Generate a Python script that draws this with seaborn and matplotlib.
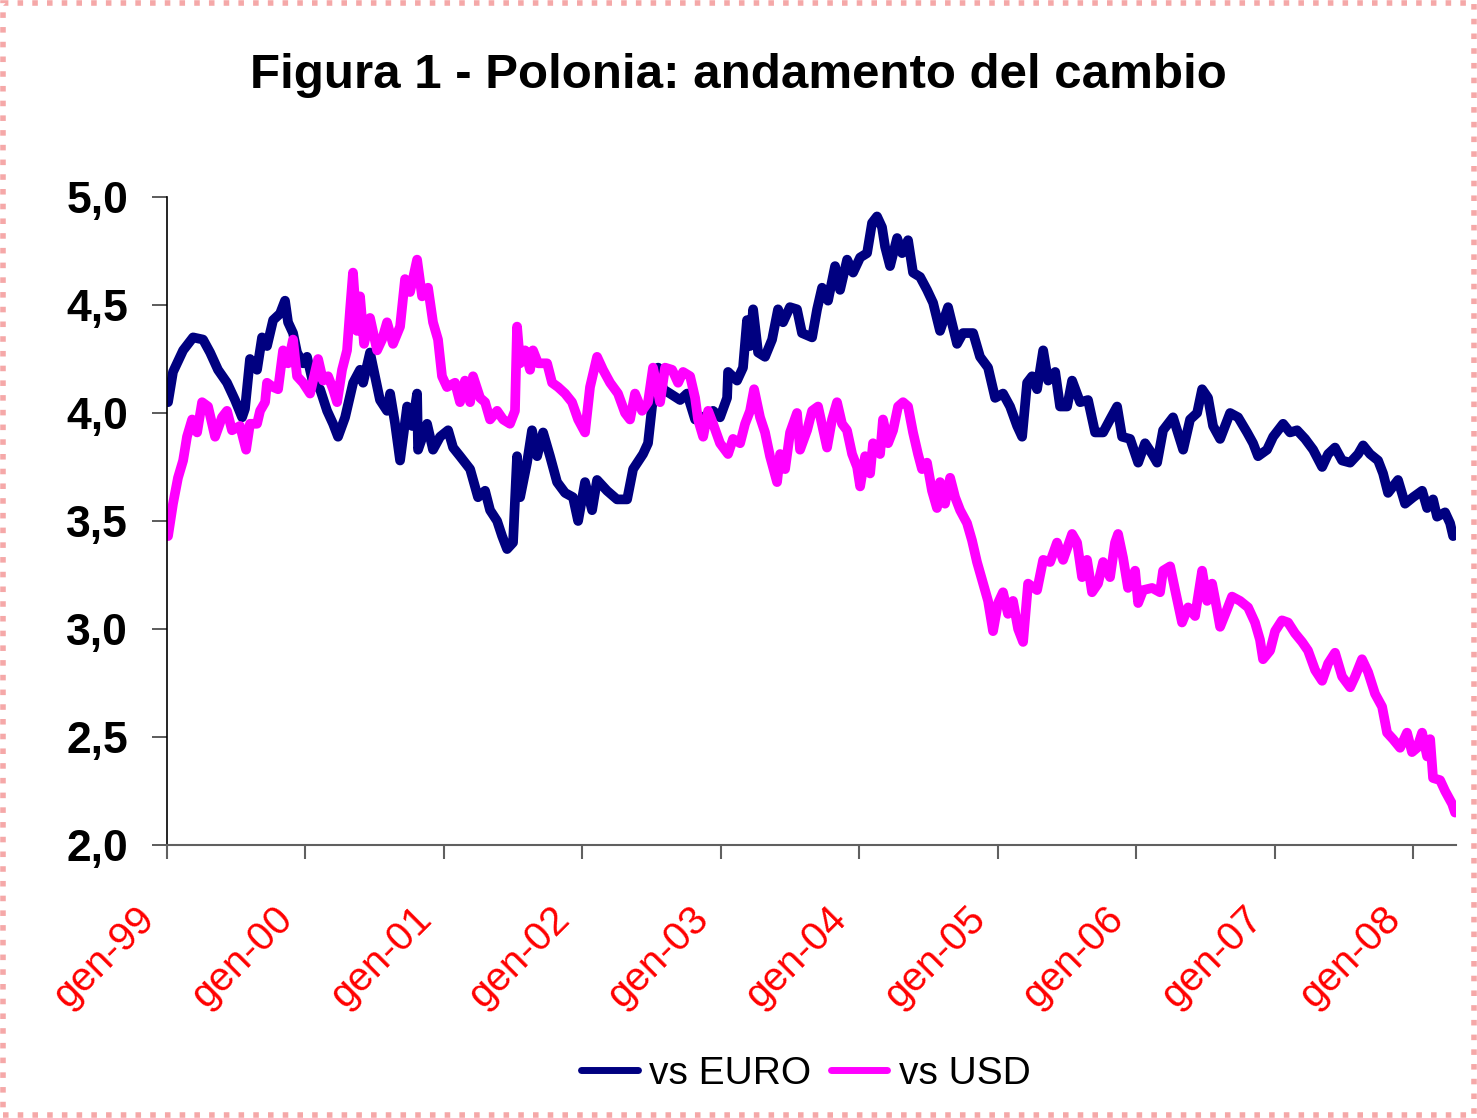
import matplotlib
matplotlib.use("Agg")
import matplotlib.pyplot as plt
import matplotlib.transforms as mtrans
from matplotlib.patches import Rectangle
import seaborn as sns
import pandas as pd

# time in decimal years, zloty per unit of foreign currency
euro_t = [1999.007, 1999.043, 1999.116, 1999.188, 1999.260, 1999.311, 1999.368, 1999.433, 1999.491, 1999.542,
          1999.563, 1999.599, 1999.650, 1999.686, 1999.722, 1999.766, 1999.816, 1999.852, 1999.874, 1999.910,
          1999.939, 1999.982, 2000.011, 2000.054, 2000.105, 2000.156, 2000.199, 2000.235, 2000.286, 2000.344,
          2000.394, 2000.416, 2000.466, 2000.502, 2000.538, 2000.589, 2000.611, 2000.647, 2000.683, 2000.734,
          2000.770, 2000.806, 2000.813, 2000.878, 2000.921, 2000.972, 2001.030, 2001.066, 2001.116, 2001.189,
          2001.246, 2001.297, 2001.333, 2001.384, 2001.420, 2001.456, 2001.499, 2001.528, 2001.550, 2001.600,
          2001.636, 2001.673, 2001.716, 2001.766, 2001.817, 2001.875, 2001.932, 2001.969, 2002.019, 2002.070,
          2002.106, 2002.178, 2002.250, 2002.323, 2002.366, 2002.438, 2002.474, 2002.503, 2002.547, 2002.583,
          2002.633, 2002.706, 2002.756, 2002.814, 2002.872, 2002.944, 2002.994, 2003.045, 2003.052, 2003.117,
          2003.160, 2003.189, 2003.211, 2003.233, 2003.269, 2003.319, 2003.370, 2003.413, 2003.449, 2003.499,
          2003.550, 2003.586, 2003.659, 2003.695, 2003.731, 2003.774, 2003.825, 2003.861, 2003.912, 2003.955,
          2004.006, 2004.056, 2004.092, 2004.128, 2004.164, 2004.186, 2004.222, 2004.273, 2004.309, 2004.352,
          2004.388, 2004.439, 2004.489, 2004.533, 2004.583, 2004.641, 2004.706, 2004.749, 2004.822, 2004.872,
          2004.930, 2004.981, 2005.038, 2005.089, 2005.140, 2005.176, 2005.212, 2005.248, 2005.284, 2005.328,
          2005.364, 2005.415, 2005.450, 2005.501, 2005.537, 2005.595, 2005.652, 2005.703, 2005.761, 2005.811,
          2005.862, 2005.898, 2005.956, 2006.014, 2006.064, 2006.115, 2006.151, 2006.194, 2006.266, 2006.339,
          2006.389, 2006.440, 2006.476, 2006.519, 2006.555, 2006.606, 2006.678, 2006.736, 2006.801, 2006.844,
          2006.880, 2006.945, 2006.989, 2007.061, 2007.111, 2007.162, 2007.220, 2007.278, 2007.343, 2007.386,
          2007.436, 2007.487, 2007.545, 2007.603, 2007.639, 2007.689, 2007.747, 2007.783, 2007.819, 2007.891,
          2007.942, 2008.000, 2008.065, 2008.101, 2008.144, 2008.173, 2008.231, 2008.267, 2008.289]
euro_v = [4.05, 4.19, 4.29, 4.35, 4.34, 4.28, 4.20, 4.14, 4.06, 3.98,
          4.02, 4.25, 4.20, 4.35, 4.31, 4.43, 4.46, 4.52, 4.42, 4.37,
          4.28, 4.23, 4.26, 4.14, 4.11, 4.01, 3.95, 3.89, 3.98, 4.14,
          4.20, 4.14, 4.28, 4.17, 4.06, 4.01, 4.09, 3.95, 3.78, 4.03,
          3.94, 4.09, 3.83, 3.95, 3.83, 3.89, 3.92, 3.84, 3.80, 3.74,
          3.61, 3.64, 3.55, 3.50, 3.43, 3.37, 3.40, 3.80, 3.61, 3.77,
          3.92, 3.80, 3.91, 3.80, 3.68, 3.63, 3.61, 3.50, 3.68, 3.55,
          3.69, 3.64, 3.60, 3.60, 3.74, 3.81, 3.86, 4.03, 4.21, 4.11,
          4.09, 4.06, 4.09, 3.97, 3.98, 4.01, 3.98, 4.07, 4.19, 4.15,
          4.21, 4.43, 4.31, 4.48, 4.28, 4.26, 4.34, 4.48, 4.42, 4.49,
          4.48, 4.37, 4.35, 4.48, 4.58, 4.52, 4.68, 4.57, 4.71, 4.65,
          4.72, 4.74, 4.88, 4.91, 4.86, 4.77, 4.68, 4.81, 4.74, 4.80,
          4.65, 4.63, 4.57, 4.51, 4.38, 4.49, 4.32, 4.37, 4.37, 4.26,
          4.21, 4.07, 4.09, 4.03, 3.94, 3.89, 4.14, 4.17, 4.11, 4.29,
          4.15, 4.19, 4.03, 4.03, 4.15, 4.05, 4.06, 3.91, 3.91, 3.97,
          4.03, 3.89, 3.88, 3.77, 3.86, 3.81, 3.77, 3.92, 3.98, 3.83,
          3.97, 4.00, 4.11, 4.07, 3.94, 3.88, 4.00, 3.98, 3.91, 3.86,
          3.80, 3.83, 3.89, 3.95, 3.91, 3.92, 3.88, 3.83, 3.75, 3.81,
          3.84, 3.78, 3.77, 3.81, 3.85, 3.81, 3.78, 3.72, 3.63, 3.69,
          3.58, 3.61, 3.64, 3.56, 3.60, 3.52, 3.54, 3.49, 3.43]

usd_t = [1999.007, 1999.043, 1999.079, 1999.116, 1999.144, 1999.181, 1999.217, 1999.253, 1999.296, 1999.347,
         1999.397, 1999.433, 1999.469, 1999.527, 1999.571, 1999.599, 1999.650, 1999.672, 1999.708, 1999.722,
         1999.766, 1999.802, 1999.838, 1999.874, 1999.910, 1999.939, 1999.982, 2000.033, 2000.091, 2000.127,
         2000.163, 2000.199, 2000.228, 2000.264, 2000.300, 2000.322, 2000.343, 2000.372, 2000.394, 2000.423,
         2000.466, 2000.517, 2000.553, 2000.589, 2000.632, 2000.683, 2000.719, 2000.755, 2000.806, 2000.842,
         2000.885, 2000.921, 2000.957, 2000.986, 2001.022, 2001.080, 2001.116, 2001.152, 2001.189, 2001.210,
         2001.261, 2001.297, 2001.333, 2001.384, 2001.427, 2001.477, 2001.513, 2001.528, 2001.550, 2001.586,
         2001.622, 2001.643, 2001.680, 2001.745, 2001.781, 2001.824, 2001.875, 2001.925, 2001.969, 2002.019,
         2002.055, 2002.106, 2002.149, 2002.200, 2002.257, 2002.308, 2002.344, 2002.380, 2002.431, 2002.474,
         2002.510, 2002.561, 2002.597, 2002.648, 2002.691, 2002.727, 2002.778, 2002.814, 2002.835, 2002.872,
         2002.908, 2002.944, 2002.994, 2003.052, 2003.088, 2003.139, 2003.175, 2003.211, 2003.240, 2003.283,
         2003.319, 2003.355, 2003.406, 2003.428, 2003.464, 2003.500, 2003.550, 2003.572, 2003.623, 2003.659,
         2003.702, 2003.767, 2003.803, 2003.839, 2003.875, 2003.911, 2003.948, 2003.984, 2004.006, 2004.042,
         2004.078, 2004.099, 2004.150, 2004.171, 2004.208, 2004.244, 2004.280, 2004.316, 2004.352, 2004.388,
         2004.424, 2004.453, 2004.489, 2004.525, 2004.561, 2004.583, 2004.619, 2004.656, 2004.692, 2004.728,
         2004.778, 2004.814, 2004.850, 2004.894, 2004.930, 2004.966, 2005.002, 2005.038, 2005.074, 2005.110,
         2005.147, 2005.183, 2005.219, 2005.284, 2005.328, 2005.378, 2005.428, 2005.472, 2005.537, 2005.573,
         2005.609, 2005.645, 2005.681, 2005.724, 2005.761, 2005.811, 2005.847, 2005.869, 2005.905, 2005.941,
         2005.992, 2006.014, 2006.050, 2006.115, 2006.172, 2006.194, 2006.245, 2006.281, 2006.331, 2006.375,
         2006.425, 2006.476, 2006.512, 2006.548, 2006.584, 2006.606, 2006.656, 2006.692, 2006.750, 2006.808,
         2006.858, 2006.894, 2006.916, 2006.967, 2007.003, 2007.053, 2007.097, 2007.147, 2007.198, 2007.241,
         2007.292, 2007.343, 2007.386, 2007.436, 2007.487, 2007.545, 2007.581, 2007.631, 2007.675, 2007.725,
         2007.776, 2007.812, 2007.855, 2007.906, 2007.956, 2007.992, 2008.029, 2008.065, 2008.101, 2008.123,
         2008.144, 2008.195, 2008.231, 2008.282, 2008.303]
usd_v = [3.43, 3.58, 3.70, 3.78, 3.89, 3.97, 3.91, 4.05, 4.03, 3.89,
         3.98, 4.01, 3.92, 3.94, 3.83, 3.95, 3.95, 4.01, 4.05, 4.14,
         4.12, 4.11, 4.29, 4.23, 4.34, 4.17, 4.14, 4.09, 4.25, 4.15,
         4.17, 4.11, 4.05, 4.20, 4.29, 4.48, 4.65, 4.38, 4.54, 4.32,
         4.44, 4.29, 4.34, 4.42, 4.32, 4.40, 4.62, 4.56, 4.71, 4.54,
         4.58, 4.42, 4.34, 4.17, 4.12, 4.14, 4.05, 4.15, 4.05, 4.17,
         4.07, 4.05, 3.97, 4.01, 3.97, 3.95, 4.01, 4.40, 4.23, 4.29,
         4.20, 4.29, 4.23, 4.23, 4.14, 4.12, 4.09, 4.05, 3.97, 3.91,
         4.12, 4.26, 4.20, 4.14, 4.09, 4.00, 3.97, 4.09, 4.01, 4.05,
         4.21, 4.05, 4.21, 4.20, 4.14, 4.19, 4.17, 4.07, 3.97, 3.89,
         4.01, 3.95, 3.86, 3.81, 3.88, 3.86, 3.95, 4.01, 4.11, 3.98,
         3.91, 3.80, 3.68, 3.81, 3.74, 3.91, 4.00, 3.83, 3.92, 4.01,
         4.03, 3.84, 3.97, 4.05, 3.95, 3.92, 3.81, 3.75, 3.66, 3.80,
         3.72, 3.86, 3.81, 3.97, 3.86, 3.92, 4.03, 4.05, 4.03, 3.91,
         3.81, 3.74, 3.77, 3.64, 3.56, 3.68, 3.58, 3.70, 3.61, 3.55,
         3.49, 3.41, 3.31, 3.21, 3.13, 2.99, 3.12, 3.17, 3.07, 3.13,
         3.00, 2.94, 3.21, 3.18, 3.32, 3.31, 3.40, 3.32, 3.44, 3.40,
         3.24, 3.32, 3.17, 3.21, 3.31, 3.24, 3.40, 3.44, 3.33, 3.19,
         3.27, 3.12, 3.18, 3.19, 3.17, 3.27, 3.29, 3.18, 3.03, 3.10,
         3.06, 3.27, 3.13, 3.21, 3.09, 3.01, 3.09, 3.15, 3.13, 3.10,
         3.03, 2.95, 2.86, 2.90, 2.99, 3.04, 3.03, 2.98, 2.94, 2.90,
         2.81, 2.76, 2.84, 2.89, 2.78, 2.73, 2.78, 2.86, 2.80, 2.70,
         2.64, 2.52, 2.49, 2.45, 2.52, 2.43, 2.45, 2.52, 2.41, 2.49,
         2.31, 2.30, 2.25, 2.19, 2.15]

series_names = ["vs EURO", "vs USD"]
series_colors = ["#000080", "#FF00FF"]
tick_years = list(range(1999, 2009))
tick_labels = ["gen-99", "gen-00", "gen-01", "gen-02", "gen-03",
               "gen-04", "gen-05", "gen-06", "gen-07", "gen-08"]
y_ticks = [2.0, 2.5, 3.0, 3.5, 4.0, 4.5, 5.0]


def to_date(y):
    return pd.Timestamp("1999-01-01") + pd.to_timedelta((y - 1999) * 365.25, unit="D")


df = pd.concat([
    pd.DataFrame({"data": [to_date(t) for t in euro_t], "cambio": euro_v, "serie": series_names[0]}),
    pd.DataFrame({"data": [to_date(t) for t in usd_t], "cambio": usd_v, "serie": series_names[1]}),
], ignore_index=True)

sns.set_style("white")
plt.rcParams["font.family"] = ["Liberation Sans", "DejaVu Sans"]
plt.rcParams["text.color"] = "black"
plt.rcParams["ytick.color"] = "black"

fig = plt.figure(figsize=(14.77, 11.18), dpi=100)
ax = fig.add_axes([0.1131, 0.2442, 0.8727, 0.5796])

sns.lineplot(data=df, x="data", y="cambio", hue="serie", palette=series_colors,
             estimator=None, sort=False, linewidth=7, ax=ax, legend=False,
             solid_capstyle="round", solid_joinstyle="round")

ax.set_ylim(2.0, 5.0)
ax.set_xlim(to_date(1999.0), to_date(2008.31))
ax.set_yticks(y_ticks)
ax.set_yticklabels([f"{v:.1f}".replace(".", ",") for v in y_ticks],
                   fontsize=32, fontweight="bold", color="black")
ax.set_xticks([to_date(y) for y in tick_years])
ax.set_xticklabels(tick_labels, rotation=45, ha="right", va="top",
                   color="red", fontsize=29)
ax.set_xlabel("")
ax.set_ylabel("")

ax.tick_params(axis="y", direction="out", length=11, width=1.2, color="#404040", pad=17, left=True)
ax.tick_params(axis="x", direction="out", length=10, width=1.5, color="#606060", pad=29, bottom=True)
for lbl in ax.get_xticklabels():
    lbl.set_transform(lbl.get_transform() + mtrans.ScaledTranslation(-0.05, 0, fig.dpi_scale_trans))

sns.despine(ax=ax)
ax.spines["left"].set_color("#000000")
ax.spines["left"].set_linewidth(1.2)
ax.spines["bottom"].set_color("#606060")
ax.spines["bottom"].set_linewidth(1.5)

fig.text(0.5, 1 - 88 / 1118, "Figura 1 - Polonia: andamento del cambio",
         ha="center", va="baseline", fontsize=35.5, fontweight="bold", color="black")

handles = [plt.Line2D([], [], color=c, linewidth=5, solid_capstyle="round") for c in series_colors]
fig.legend(handles, series_names, loc="center", bbox_to_anchor=(0.5457, 0.0394),
           ncol=2, frameon=False, fontsize=28, handlelength=1.45,
           handletextpad=0.3, columnspacing=0.5, labelcolor="black")

fig.patches.append(Rectangle((0.002, 0.003), 0.996, 0.994, transform=fig.transFigure,
                             fill=False, edgecolor="#f5a8a8", linewidth=4, linestyle=":"))

fig.savefig("out.png", dpi=100)
